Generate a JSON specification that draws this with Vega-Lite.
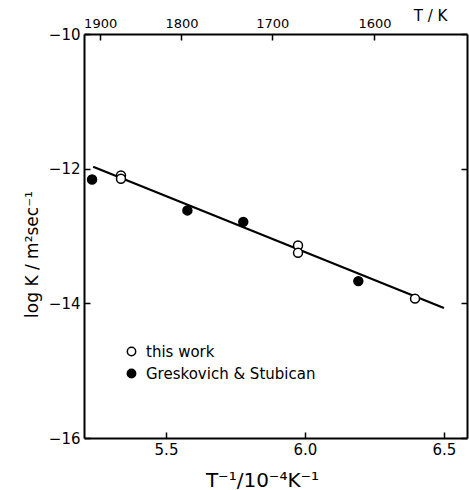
{
  "$schema": "https://vega.github.io/schema/vega-lite/v6.json",
  "width": 383,
  "height": 404,
  "autosize": {"type": "none"},
  "padding": {"left": 84, "top": 34, "right": 2, "bottom": 52},
  "background": "white",
  "config": {
    "view": {"stroke": null},
    "font": "DejaVu Sans",
    "axis": {
      "domainColor": "black",
      "domainWidth": 2,
      "tickColor": "black",
      "tickWidth": 1.5,
      "tickSize": -6,
      "labelPadding": 10,
      "labelColor": "black",
      "labelFont": "DejaVu Sans",
      "labelFontSize": 14,
      "titleColor": "black",
      "titleFont": "DejaVu Sans",
      "titleFontWeight": "normal",
      "grid": false
    }
  },
  "layer": [
    {
      "data": {"values": [
        {"x": 5.238, "y": -11.97},
        {"x": 6.5, "y": -14.07}
      ]},
      "mark": {"type": "line", "color": "black", "strokeWidth": 2.2},
      "encoding": {
        "x": {
          "field": "x", "type": "quantitative",
          "scale": {"domain": [5.205, 6.583], "nice": false, "zero": false},
          "axis": {
            "orient": "bottom",
            "values": [5.5, 6.0, 6.5],
            "format": ".1f",
            "labelFontSize": 15,
            "title": "T⁻¹/10⁻⁴K⁻¹",
            "titleFontSize": 20,
            "titleX": 178,
            "titleY": 42,
            "titleBaseline": "middle"
          }
        },
        "y": {
          "field": "y", "type": "quantitative",
          "scale": {"domain": [-16, -10], "nice": false, "zero": false},
          "axis": {
            "orient": "left",
            "values": [-10, -12, -14, -16],
            "format": "d",
            "labelFontSize": 15,
            "title": "log K /  m²sec⁻¹",
            "titleFontSize": 17,
            "titleX": -52,
            "titleY": 220,
            "titleAngle": -90,
            "titleBaseline": "middle",
            "titleAlign": "center"
          }
        }
      }
    },
    {
      "data": {"values": [
        {"x": 5.234, "y": -12.16, "series": "Greskovich & Stubican"},
        {"x": 5.577, "y": -12.62, "series": "Greskovich & Stubican"},
        {"x": 5.778, "y": -12.79, "series": "Greskovich & Stubican"},
        {"x": 6.192, "y": -13.67, "series": "Greskovich & Stubican"},
        {"x": 5.338, "y": -12.10, "series": "this work"},
        {"x": 5.338, "y": -12.15, "series": "this work"},
        {"x": 5.975, "y": -13.14, "series": "this work"},
        {"x": 5.975, "y": -13.25, "series": "this work"},
        {"x": 6.396, "y": -13.93, "series": "this work"}
      ]},
      "mark": {"type": "point", "shape": "circle", "filled": true, "stroke": "black", "strokeWidth": 1.5, "size": 80, "opacity": 1},
      "encoding": {
        "x": {
          "field": "x", "type": "quantitative",
          "axis": {
            "orient": "top",
            "values": [5.26316, 5.55556, 5.88235, 6.25],
            "labelExpr": "format(10000/datum.value, '.0f')",
            "labelFontSize": 13,
            "title": "T / K",
            "titleFontSize": 15,
            "titleX": 346,
            "titleY": -19,
            "titleAngle": 0,
            "titleBaseline": "middle",
            "titleAlign": "center"
          }
        },
        "y": {
          "field": "y", "type": "quantitative",
          "axis": {
            "orient": "right",
            "values": [-10, -12, -14, -16],
            "labels": false,
            "title": null
          }
        },
        "fill": {
          "field": "series", "type": "nominal",
          "scale": {"domain": ["this work", "Greskovich & Stubican"], "range": ["white", "black"]},
          "legend": {
            "orient": "none",
            "legendX": 40,
            "legendY": 310,
            "title": null,
            "symbolType": "circle",
            "symbolStrokeColor": "black",
            "symbolStrokeWidth": 1.5,
            "symbolSize": 70,
            "symbolOpacity": 1,
            "labelFontSize": 15,
            "labelColor": "black",
            "labelFont": "DejaVu Sans",
            "labelLimit": 0,
            "rowPadding": 6,
            "labelOffset": 7
          }
        }
      }
    }
  ]
}
